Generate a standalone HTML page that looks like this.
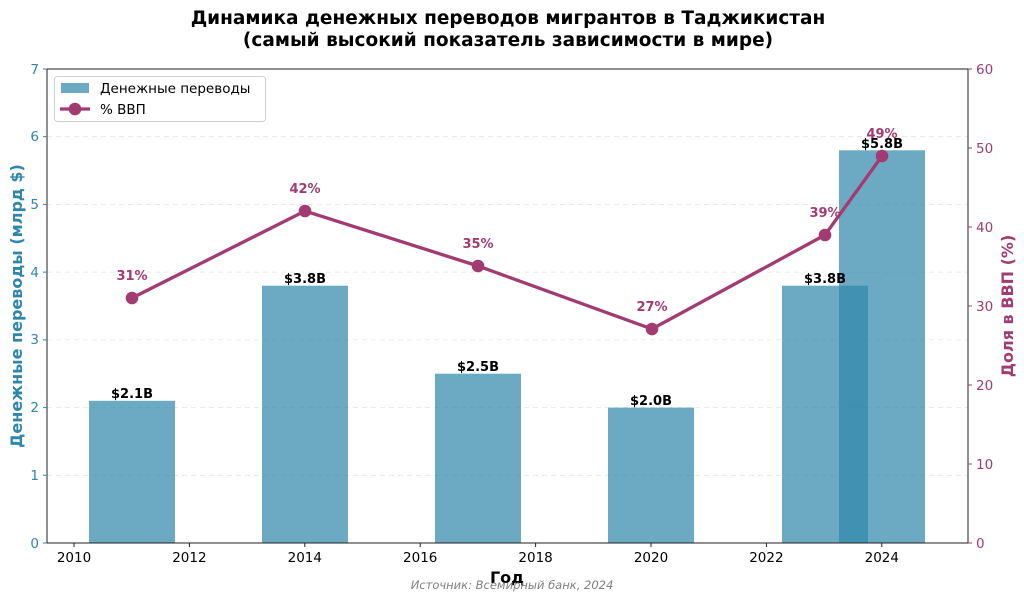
<!DOCTYPE html>
<html><head><meta charset="utf-8"><style>body{margin:0;background:#fff}svg{display:block;font-family:"DejaVu Sans","Liberation Sans",sans-serif}</style></head><body>
<svg width="1024" height="600" xmlns="http://www.w3.org/2000/svg">
<text x="508" y="24" text-anchor="middle" font-size="18.5" font-weight="bold">Динамика денежных переводов мигрантов в Таджикистан</text>
<text x="508" y="46" text-anchor="middle" font-size="18.5" font-weight="bold">(самый высокий показатель зависимости в мире)</text>
<g stroke="#e3e3e3" stroke-dasharray="5,4" stroke-width="0.8">
<line x1="47" x2="968" y1="475.3" y2="475.3"/><line x1="47" x2="968" y1="407.6" y2="407.6"/><line x1="47" x2="968" y1="339.9" y2="339.9"/><line x1="47" x2="968" y1="272.1" y2="272.1"/><line x1="47" x2="968" y1="204.4" y2="204.4"/><line x1="47" x2="968" y1="136.7" y2="136.7"/>
</g>
<g fill="#2e86ab" fill-opacity="0.7">
<rect x="89" y="400.8" width="86" height="142.2"/>
<rect x="262" y="285.7" width="86" height="257.3"/>
<rect x="435" y="373.7" width="86" height="169.3"/>
<rect x="608" y="407.6" width="86" height="135.4"/>
<rect x="782" y="285.7" width="86" height="257.3"/>
<rect x="839" y="150.3" width="86" height="392.7"/>
</g>
<g font-size="13" font-weight="bold" text-anchor="middle">
<text x="132" y="398">$2.1B</text><text x="305" y="283">$3.8B</text><text x="478" y="371">$2.5B</text><text x="651" y="405">$2.0B</text><text x="825" y="283">$3.8B</text><text x="882" y="148">$5.8B</text>
</g>
<polyline points="132,298 305,211 478,266 652,329 825,235 882,156" fill="none" stroke="#a23b72" stroke-width="3.3"/>
<g fill="#a23b72"><circle cx="132" cy="298" r="6.3"/><circle cx="305" cy="211" r="6.3"/><circle cx="478" cy="266" r="6.3"/><circle cx="652" cy="329" r="6.3"/><circle cx="825" cy="235" r="6.3"/><circle cx="882" cy="156" r="6.3"/></g>
<g fill="#a23b72" font-size="13" font-weight="bold" text-anchor="middle">
<text x="132" y="280">31%</text><text x="305" y="193">42%</text><text x="478" y="248">35%</text><text x="652" y="311">27%</text><text x="825" y="217">39%</text><text x="882" y="138">49%</text>
</g>
<rect x="47" y="69" width="921" height="474" fill="none" stroke="#222" stroke-width="1"/>
<g stroke="#222"><line x1="74" x2="74" y1="543" y2="547"/><line x1="189.4" x2="189.4" y1="543" y2="547"/><line x1="304.8" x2="304.8" y1="543" y2="547"/><line x1="420.2" x2="420.2" y1="543" y2="547"/><line x1="535.6" x2="535.6" y1="543" y2="547"/><line x1="651" x2="651" y1="543" y2="547"/><line x1="766.4" x2="766.4" y1="543" y2="547"/><line x1="881.8" x2="881.8" y1="543" y2="547"/></g>
<g font-size="13.5" text-anchor="middle">
<text x="74" y="562">2010</text><text x="189.4" y="562">2012</text><text x="304.8" y="562">2014</text><text x="420.2" y="562">2016</text><text x="535.6" y="562">2018</text><text x="651" y="562">2020</text><text x="766.4" y="562">2022</text><text x="881.8" y="562">2024</text>
</g>
<g stroke="#2e86ab"><line x1="43" x2="47" y1="543" y2="543"/><line x1="43" x2="47" y1="475.3" y2="475.3"/><line x1="43" x2="47" y1="407.6" y2="407.6"/><line x1="43" x2="47" y1="339.9" y2="339.9"/><line x1="43" x2="47" y1="272.1" y2="272.1"/><line x1="43" x2="47" y1="204.4" y2="204.4"/><line x1="43" x2="47" y1="136.7" y2="136.7"/><line x1="43" x2="47" y1="69" y2="69"/></g>
<g fill="#2e86ab" font-size="13.5" text-anchor="end">
<text x="39" y="548">0</text><text x="39" y="480">1</text><text x="39" y="412">2</text><text x="39" y="344">3</text><text x="39" y="277">4</text><text x="39" y="209">5</text><text x="39" y="141">6</text><text x="39" y="74">7</text>
</g>
<g stroke="#a23b72"><line x1="968" x2="972" y1="543" y2="543"/><line x1="968" x2="972" y1="464" y2="464"/><line x1="968" x2="972" y1="385" y2="385"/><line x1="968" x2="972" y1="306" y2="306"/><line x1="968" x2="972" y1="227" y2="227"/><line x1="968" x2="972" y1="148" y2="148"/><line x1="968" x2="972" y1="69" y2="69"/></g>
<g fill="#a23b72" font-size="13.5">
<text x="976" y="548">0</text><text x="976" y="469">10</text><text x="976" y="390">20</text><text x="976" y="311">30</text><text x="976" y="232">40</text><text x="976" y="153">50</text><text x="976" y="74">60</text>
</g>
<text transform="translate(22,306) rotate(-90)" text-anchor="middle" font-size="16" font-weight="bold" fill="#2e86ab">Денежные переводы (млрд $)</text>
<text transform="translate(1013,306) rotate(-90)" text-anchor="middle" font-size="16" font-weight="bold" fill="#a23b72">Доля в ВВП (%)</text>
<text x="507" y="583" text-anchor="middle" font-size="16" font-weight="bold">Год</text>
<text x="512" y="589" text-anchor="middle" font-size="11.5" font-style="italic" fill="#808080">Источник: Всемирный банк, 2024</text>
<rect x="54.5" y="76.5" width="211" height="45" rx="3" fill="#fff" fill-opacity="0.8" stroke="#d0d0d0"/>
<rect x="61" y="83" width="28" height="10" fill="#2e86ab" fill-opacity="0.7"/>
<text x="100" y="93" font-size="13.5">Денежные переводы</text>
<line x1="60" x2="90" y1="109" y2="109" stroke="#a23b72" stroke-width="3.3"/><circle cx="75" cy="109" r="6.3" fill="#a23b72"/>
<text x="100" y="114" font-size="13.5">% ВВП</text>
</svg>
</body></html>
